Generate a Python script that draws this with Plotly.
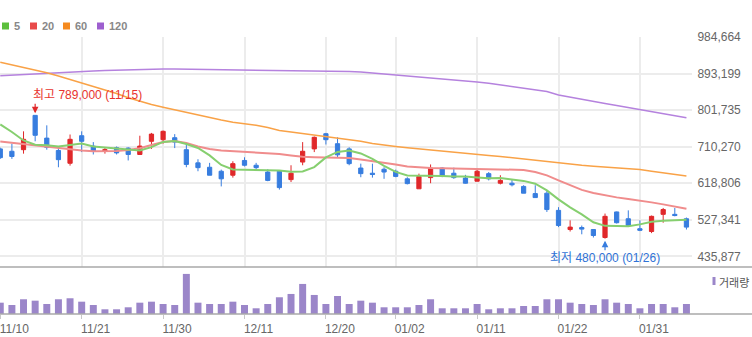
import plotly.graph_objects as go

# ---------------- data ----------------
dates = ["11/10", "11/13", "11/14", "11/15", "11/16", "11/17", "11/20", "11/21", "11/22", "11/23",
         "11/24", "11/27", "11/28", "11/29", "11/30", "12/01", "12/04", "12/05", "12/06", "12/07",
         "12/08", "12/11", "12/12", "12/13", "12/14", "12/15", "12/18", "12/19", "12/20", "12/21",
         "12/22", "12/26", "12/27", "12/28", "01/02", "01/03", "01/04", "01/05", "01/08", "01/09",
         "01/10", "01/11", "01/12", "01/15", "01/16", "01/17", "01/18", "01/19", "01/22", "01/23",
         "01/24", "01/25", "01/26", "01/29", "01/30", "01/31", "02/01", "02/02", "02/05", "02/06"]

opens = [705000, 699000, 703000, 789000, 732000, 701000, 669000, 738000, 712000, 700000,
         708000, 707000, 691000, 724000, 728000, 733000, 703000, 670000, 659000, 649000,
         639000, 676000, 664000, 647000, 649000, 628000, 672000, 705000, 743000, 718000,
         705000, 657000, 644000, 654000, 649000, 630000, 605000, 633000, 657000, 644000,
         632000, 624000, 643000, 619000, 619000, 611000, 593000, 594000, 551000, 503000,
         508000, 503000, 483000, 547000, 530000, 505000, 498000, 541000, 541000, 530000]
highs = [708000, 718000, 749000, 789000, 764000, 707000, 741000, 749000, 722000, 709000,
         711000, 709000, 738000, 745000, 751000, 742000, 718000, 679000, 670000, 653000,
         674000, 684000, 670000, 654000, 651000, 664000, 722000, 736000, 745000, 734000,
         709000, 668000, 668000, 659000, 653000, 634000, 643000, 666000, 659000, 658000,
         640000, 655000, 647000, 639000, 628000, 614000, 614000, 601000, 559000, 526000,
         513000, 503000, 543000, 548000, 551000, 526000, 538000, 557000, 557000, 533000]
lows = [680000, 680000, 693000, 724000, 703000, 659000, 663000, 697000, 691000, 693000,
        691000, 676000, 691000, 705000, 718000, 707000, 659000, 649000, 639000, 611000,
        633000, 661000, 653000, 624000, 603000, 622000, 664000, 697000, 716000, 684000,
        664000, 634000, 633000, 630000, 634000, 616000, 605000, 619000, 634000, 630000,
        618000, 624000, 626000, 616000, 611000, 594000, 583000, 547000, 509000, 498000,
        491000, 483000, 480000, 518000, 511000, 499000, 494000, 520000, 536000, 503000]
closes = [683000, 686000, 729000, 739000, 709000, 678000, 729000, 724000, 699000, 703000,
          695000, 691000, 712000, 742000, 749000, 722000, 666000, 658000, 639000, 630000,
          668000, 664000, 658000, 626000, 608000, 644000, 699000, 734000, 728000, 690000,
          668000, 643000, 641000, 647000, 636000, 618000, 636000, 657000, 637000, 633000,
          619000, 649000, 630000, 626000, 615000, 594000, 583000, 553000, 513000, 509000,
          504000, 488000, 536000, 520000, 513000, 501000, 536000, 553000, 538000, 509000]

ma5 = [766200, 747400, 726100, 715400, 714100, 711100, 714900, 718600, 711100, 708600,
       706100, 704100, 701100, 709400, 722400, 724900, 717400, 707400, 688600, 664800,
       653600, 652800, 652800, 652100, 651100, 647800, 648600, 659300, 683600, 697400,
       701100, 693600, 679800, 662300, 647300, 638600, 638600, 638600, 637300, 636000,
       636000, 633500, 631500, 632300, 628500, 624800, 617800, 601000, 578500, 558500,
       541000, 521000, 512200, 510900, 510900, 515900, 522200, 524700, 526400, 527700]
ma20 = [723600, 720400, 717400, 714100, 709900, 706100, 703600, 701100, 699100, 698600,
        699900, 702400, 706600, 714900, 722400, 724900, 719900, 711100, 704900, 701100,
        699400, 697900, 696100, 694900, 692400, 688600, 685300, 684300, 684100, 683600,
        682300, 678600, 674800, 671100, 666100, 661100, 658600, 657300, 656600, 656100,
        655600, 654800, 654100, 653600, 653100, 652300, 647300, 638600, 626000, 613500,
        602300, 594700, 588500, 583500, 579700, 576000, 571000, 566000, 561000, 555200]
ma60 = [922100, 915600, 908800, 901800, 895600, 887600, 878800, 870000, 861300, 852500,
        843800, 833000, 823700, 816200, 809200, 802500, 795700, 790000, 783700, 777400,
        771900, 768200, 764200, 758700, 751200, 747400, 743700, 739900, 736200, 732400,
        728200, 724100, 718600, 714100, 711100, 707900, 704900, 702100, 699400, 696600,
        693600, 691100, 688600, 686100, 682900, 679900, 676100, 672300, 669100, 666600,
        664100, 661800, 659800, 657800, 656100, 653600, 649100, 644800, 641100, 636800]
ma120 = [888100, 889800, 891500, 893100, 894800, 896300, 897600, 898800, 900100, 901100,
         902100, 903100, 903800, 904600, 905100, 905100, 904800, 904300, 903800, 903300,
         903100, 902600, 902100, 901600, 901100, 900600, 900300, 900100, 899600, 899300,
         898800, 897600, 895100, 892600, 890100, 887600, 885600, 883800, 881300, 878800,
         876300, 872500, 869300, 865000, 861300, 857500, 853800, 848800, 840000, 834300,
         828800, 823700, 818700, 813700, 808700, 803700, 798700, 793700, 788200, 783000]

volume = [113000, 90000, 147000, 133000, 100000, 147000, 157000, 123000, 90000, 47000,
          47000, 67000, 113000, 123000, 100000, 90000, 400000, 113000, 100000, 100000,
          123000, 90000, 57000, 100000, 167000, 200000, 300000, 190000, 100000, 180000,
          100000, 133000, 113000, 67000, 67000, 67000, 90000, 147000, 57000, 57000,
          57000, 100000, 47000, 57000, 57000, 80000, 80000, 147000, 147000, 113000,
          100000, 90000, 147000, 113000, 100000, 57000, 100000, 100000, 67000, 100000]

x_tick_dates = ["11/10", "11/21", "11/30", "12/11", "12/20", "01/02", "01/11", "01/22", "01/31"]
y_tick_vals = [435877, 527341, 618806, 710270, 801735, 893199, 984664]
y_tick_text = ["435,877", "527,341", "618,806", "710,270", "801,735", "893,199", "984,664"]

ma_names = ["5", "20", "60", "120"]
max_label = "최고 789,000 (11/15)"
min_label = "최저 480,000 (01/26)"
vol_label = "거래량"

# ---------------- style ----------------
RED = "#e0282a"
BLUE = "#377ddf"
VOLC = "#9b86c9"
MA_COL = ["#86cf6f", "#f08c8c", "#f9a247", "#b582de"]
LEG_COL = ["#5cbf3c", "#e84a4a", "#f58a1f", "#9e5fcf"]
GRID = "#ececec"
FONT = "Liberation Sans, Arial, Noto Sans CJK KR, sans-serif"

W, H = 752, 337
ML, MR, MT, MB = 0, 60, 37, 23
PW, PH = W - ML - MR, H - MT - MB


def px(xp):
    return (xp - ML) / PW


def py(yp):
    return (H - MB - yp) / PH


fig = go.Figure()

for vals, col, w in [(ma120, MA_COL[3], 1.5), (ma60, MA_COL[2], 1.5),
                     (ma20, MA_COL[1], 2), (ma5, MA_COL[0], 2)]:
    fig.add_trace(go.Scatter(x=dates, y=vals, mode="lines", line=dict(color=col, width=w),
                             xaxis="x", yaxis="y", hoverinfo="skip", showlegend=False))

fig.add_trace(go.Candlestick(
    x=dates, open=opens, high=highs, low=lows, close=closes,
    increasing=dict(line=dict(color=RED, width=1), fillcolor=RED),
    decreasing=dict(line=dict(color=BLUE, width=1), fillcolor=BLUE),
    whiskerwidth=0, xaxis="x", yaxis="y", showlegend=False))

fig.add_trace(go.Bar(x=dates, y=volume, marker=dict(color=VOLC, line=dict(width=0)),
                     width=0.6, xaxis="x2", yaxis="y2", showlegend=False))

split = 0.17
xrange = [-0.023, -0.023 + PW / 11.63]

fig.update_layout(
    width=W, height=H, margin=dict(l=ML, r=MR, t=MT, b=MB),
    paper_bgcolor="white", plot_bgcolor="white",
    font=dict(family=FONT, size=12, color="#666"),
    boxgap=0.48, bargap=0.4, showlegend=False,
    xaxis=dict(domain=[0, 1], anchor="y", type="category", range=xrange,
               tickvals=x_tick_dates, showticklabels=False, showgrid=True,
               gridcolor=GRID, gridwidth=1.5, zeroline=False, showline=False,
               ticks="", rangeslider=dict(visible=False), fixedrange=True),
    xaxis2=dict(domain=[0, 1], anchor="y2", type="category", range=xrange,
                matches="x", tickvals=x_tick_dates, ticktext=x_tick_dates,
                showgrid=False, zeroline=False, showline=False, ticks="outside",
                ticklen=4, tickcolor="#c8c8c8", tickfont=dict(size=12, color="#666"),
                ticklabelshift=14, rangeslider=dict(visible=False)),
    yaxis=dict(domain=[split, 1], range=[409316, 985300], side="right",
               tickvals=y_tick_vals, ticktext=y_tick_text, showgrid=True,
               gridcolor=GRID, gridwidth=1.5, zeroline=False, showline=False,
               ticks="outside", ticklen=2, tickcolor="rgba(0,0,0,0)",
               tickfont=dict(size=12, color="#666")),
    yaxis2=dict(domain=[0, split], range=[0, 470000], showticklabels=False,
                showgrid=False, zeroline=False, showline=False),
)

shapes = [
    dict(type="line", xref="paper", yref="paper", x0=0, x1=W / PW, y0=split, y1=split,
         line=dict(color="#a8a8a8", width=1.5)),
    dict(type="line", xref="paper", yref="paper", x0=0, x1=W / PW, y0=0, y1=0,
         line=dict(color="#a8a8a8", width=1.5)),
]
annotations = []

# top legend (moving averages)
leg_x = [2, 30, 63, 97]
for name, col, lx in zip(ma_names, LEG_COL, leg_x):
    shapes.append(dict(type="rect", xref="paper", yref="paper",
                       x0=px(lx), x1=px(lx + 7), y0=py(29.5), y1=py(22.5),
                       fillcolor=col, line=dict(width=0)))
    annotations.append(dict(xref="paper", yref="paper", x=px(lx + 9.5), y=py(26),
                            text="<b>%s</b>" % name, showarrow=False, xanchor="left",
                            yanchor="middle", font=dict(size=11, color="#888")))

# volume legend
shapes.append(dict(type="rect", xref="paper", yref="paper",
                   x0=px(712.5), x1=px(715.5), y0=py(285), y1=py(277),
                   fillcolor=VOLC, line=dict(width=0)))
annotations.append(dict(xref="paper", yref="paper", x=px(717), y=py(281.5),
                        text=vol_label, showarrow=False, xanchor="left", yanchor="middle",
                        font=dict(size=11, color="#555", family="Noto Sans CJK KR")))

# high / low markers
imax = highs.index(max(highs))
imin = lows.index(min(lows))
annotations += [
    dict(x=dates[imax], y=highs[imax], xref="x", yref="y", text="", showarrow=True,
         ax=0, ay=-13, arrowhead=2, arrowsize=1.1, arrowwidth=1.2, arrowcolor=RED, standoff=2),
    dict(x=dates[imax], y=highs[imax], xref="x", yref="y", text=max_label, showarrow=False,
         xanchor="left", yanchor="middle", xshift=-4, yshift=20,
         font=dict(size=12, color="#e8332e", family=FONT)),
    dict(x=dates[imin], y=lows[imin], xref="x", yref="y", text="", showarrow=True,
         ax=0, ay=13, arrowhead=2, arrowsize=1.1, arrowwidth=1.2, arrowcolor=BLUE, standoff=2),
    dict(x=dates[imin], y=lows[imin], xref="x", yref="y", text=min_label, showarrow=False,
         xanchor="center", yanchor="middle", yshift=-19,
         font=dict(size=12, color="#2f72d6", family=FONT)),
]

fig.update_layout(shapes=shapes, annotations=annotations)
fig.write_html("out.html")
